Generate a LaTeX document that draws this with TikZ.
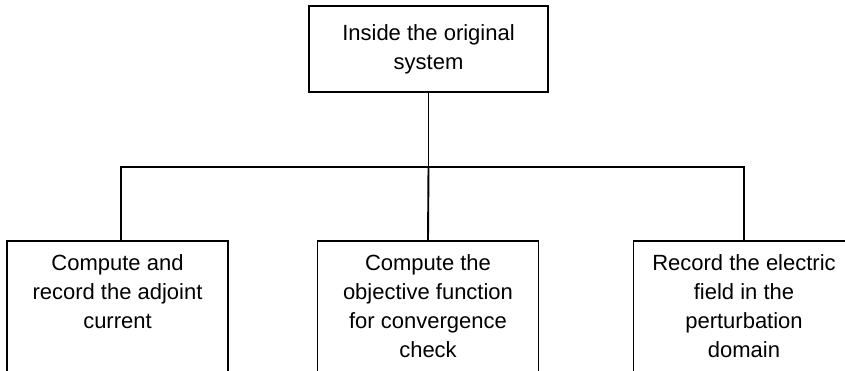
\documentclass[tikz,border=0pt]{standalone}
\usepackage{fontspec}
\setmainfont{Liberation Sans}
\usetikzlibrary{calc}
\newcommand{\boxtext}[1]{\parbox[t][150pt][t]{214pt}{\centering #1}}
\begin{document}
\begin{tikzpicture}[x=1pt,y=-1pt,
  wire/.style={line width=1.9pt},
  box/.style={draw,line width=1.9pt,inner xsep=0pt,inner ysep=14pt,align=center,
              font=\fontsize{22}{29}\selectfont},
  leaf/.style={box,anchor=north,minimum width=221pt}]
\useasboundingbox (0,0) rectangle (845,370);
\clip (0,0) rectangle (845,370);

% root
\node[box,minimum width=239pt,minimum height=86pt,inner ysep=0pt] (root) at (428.5,49)
  {Inside the original\\system};

% three tasks, running off the lower edge
\node[leaf] (adj) at (117.5,240) {\boxtext{Compute and\\record the adjoint\\current}};
\node[leaf] (obj) at (428,240) {\boxtext{Compute the\\objective function\\for convergence\\check}};
\node[leaf] (fld) at (744,240) {\boxtext{Record the electric\\field in the\\perturbation\\domain}};

% tree connectors
\draw[wire] (root.south) -- ++(0,74) coordinate (bus);
\draw[wire] (bus) -| ($(adj.north)+(3.5,0)$);
\draw[wire] (bus) -- (obj.north);
\draw[wire] (bus) -| (fld.north);
\end{tikzpicture}
\end{document}
